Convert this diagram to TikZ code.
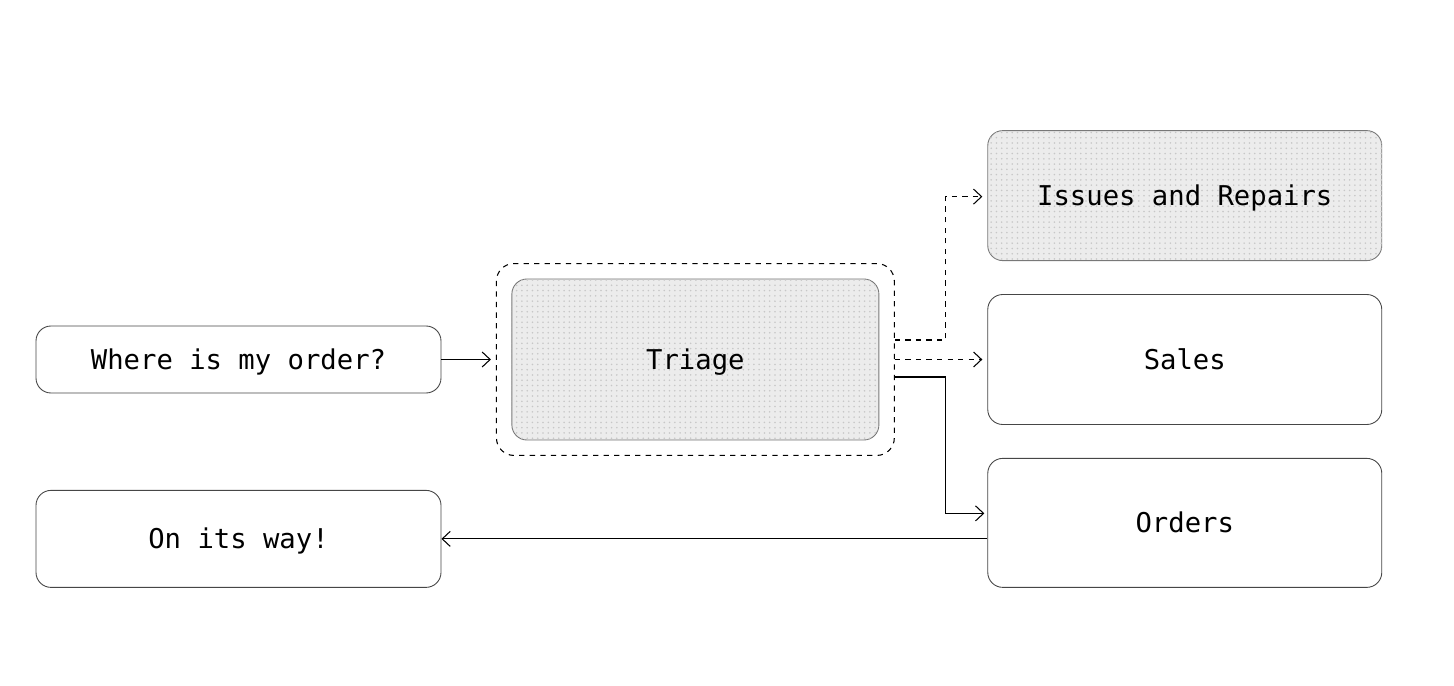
\documentclass[tikz,border=0pt]{standalone}
\usepackage{fontspec}
\setmonofont{DejaVu Sans Mono}
\usetikzlibrary{arrows.meta,positioning,fit,calc,patterns}
\definecolor{boxLine}{RGB}{70,70,70}
\definecolor{softLine}{RGB}{120,120,120}
\definecolor{dotFill}{RGB}{236,236,236}
\tikzset{
  box/.style={draw=boxLine, line width=0.5pt, rounded corners=0.3cm, fill=white, align=center, text height=11.3pt, text depth=0pt, font=\ttfamily\fontsize{15.5}{18}\selectfont},
  dotbox/.style={box, draw=softLine, fill=dotFill, postaction={pattern=dots, pattern color=black!22}},
  frame/.style={draw=black, dashed, line width=0.6pt, rounded corners=0.35cm, inner sep=0.3cm},
  flow/.style={-{Straight Barb[length=1.6mm,width=3mm]}, line width=0.6pt, draw=black},
  softflow/.style={flow, dashed}
}
\begin{document}
\begin{tikzpicture}
    \useasboundingbox (0,0) rectangle (29.08,-13.72);
    \node[box, minimum width=8.1cm, minimum height=1.34cm] (ask) at (4.77,-7.19) {Where is my order?};
    \node[dotbox, right=1.4cm of ask, minimum width=7.34cm, minimum height=3.22cm] (tri) {Triage};
    \node[frame, fit=(tri)] (fr) {};
    \node[box, right=2.16cm of tri, minimum width=7.88cm, minimum height=2.6cm] (sales) {Sales};
    \node[dotbox, above=0.66cm of sales, minimum width=7.88cm, minimum height=2.6cm] (iss) {Issues and Repairs};
    \node[box, below=0.66cm of sales, minimum width=7.88cm, minimum height=2.58cm] (ord) {Orders};
    \node[box, anchor=south west, minimum width=8.1cm, minimum height=1.94cm] (way) at (ask.west |- ord.south) {On its way!};
    % routing out of triage
    \coordinate (tA) at ($(fr.east)+(0,0.39)$);
    \coordinate (tB) at ($(fr.east)+(0,-0.35)$);
    \coordinate (bx) at ($(fr.east)+(1.02,0)$);
    \coordinate (iIn) at ($(iss.west)+(0,-0.02)$);
    \coordinate (oIn) at ($(ord.west)+(0,0.19)$);
    \draw[flow, shorten >=0.1cm] (ask) -- (fr);
    \draw[softflow, shorten >=0.1cm] (tA) -| (bx |- iIn) -- (iIn);
    \draw[softflow, shorten >=0.1cm] (fr.east) -- (sales.west);
    \draw[flow, shorten >=0.06cm] (tB) -| (bx |- oIn) -- (oIn);
    \draw[flow] (ord.west |- way.east) -- (way.east);
\end{tikzpicture}
\end{document}
